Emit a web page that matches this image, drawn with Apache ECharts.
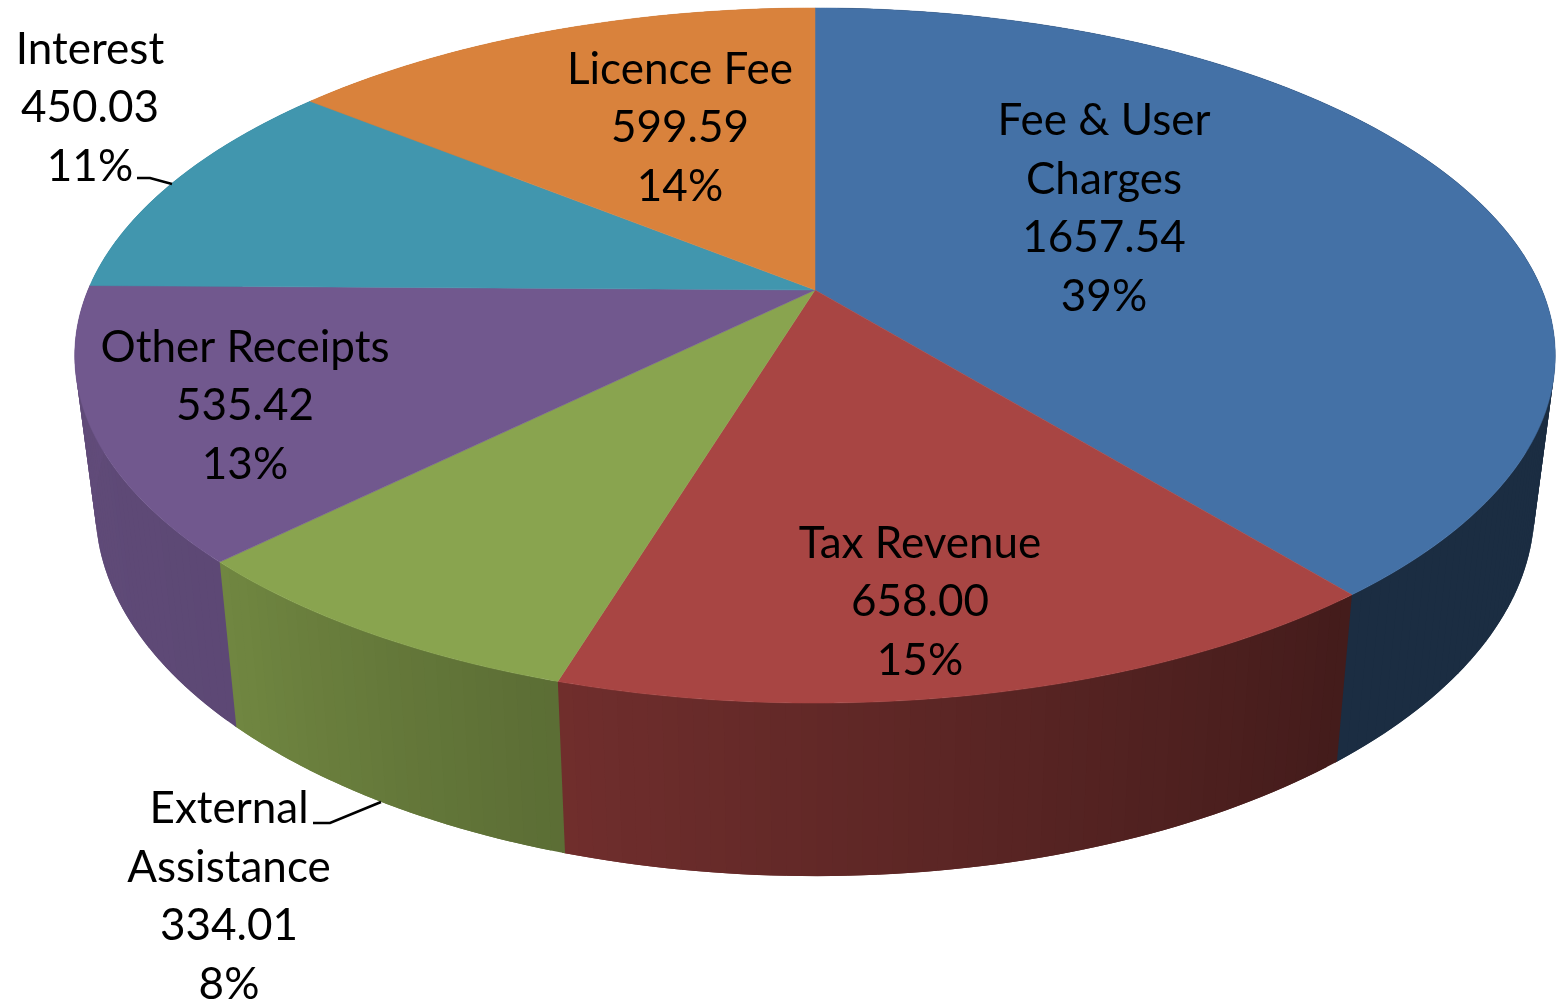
<!DOCTYPE html>
<html>
<head>
<meta charset="utf-8">
<title>Receipts</title>
<style>
  html, body { margin: 0; padding: 0; background: #fff; }
  #chart { width: 1562px; height: 1003px; }
</style>
</head>
<body>
<div id="chart"></div>
<script src="https://cdn.jsdelivr.net/npm/echarts@6/dist/echarts.min.js"></script>
<script>
const categories = ['Fee & User\nCharges', 'Tax Revenue', 'External\nAssistance', 'Other Receipts', 'Interest', 'Licence Fee'];
const values = [1657.54, 658.00, 334.01, 535.42, 450.03, 599.59];
const percents = [39, 15, 8, 13, 11, 14];
const colors = ['#4471a6', '#a84543', '#89a44f', '#71588e', '#4196ae', '#d9823c'];

// label centres, separate from the data
const labelPos = [[1104, 209], [920, 602], [229, 897], [245, 406], [90, 108], [680, 128]];
// leader lines: slice index -> polyline
const leaders = { 2: [[313, 823], [330, 823], [381, 802]], 4: [[137, 178], [150, 178], [172, 184]] };

// perspective of the pie: disc point (u, v) to screen
const cx = 815, cy = 290, rx = 727, ry = 335.2, persp = 0.1885;
function topPoint(deg) {
  const a = deg * Math.PI / 180;
  const u = Math.sin(a), v = -Math.cos(a);
  const w = 1 - persp * v;
  return [cx + rx * u / w, cy + ry * v / w];
}
function bottomPoint(deg) {
  const p = topPoint(deg);
  return [cx + 0.972 * (p[0] - cx), 1.057 * p[1] + 133];
}

const total = values.reduce((a, b) => a + b, 0);
const startAngle = [];
let running = 0;
values.forEach(v => {
  startAngle.push(running / total * 360);
  running += v;
});
function endAngle(i) {
  return i === values.length - 1 ? 360 : startAngle[i + 1];
}

// side wall gets darker towards the right hand side
const shadeStops = [[141, 0.40], [197, 0.667], [225, 0.82], [270, 0.86]];
function shade(deg) {
  if (deg <= shadeStops[0][0]) return shadeStops[0][1];
  for (let i = 1; i < shadeStops.length; i++) {
    if (deg <= shadeStops[i][0]) {
      const a = shadeStops[i - 1], b = shadeStops[i];
      return a[1] + (b[1] - a[1]) * (deg - a[0]) / (b[0] - a[0]);
    }
  }
  return shadeStops[shadeStops.length - 1][1];
}
function darken(hex, f) {
  const n = parseInt(hex.slice(1), 16);
  const r = Math.round((n >> 16 & 255) * f), g = Math.round((n >> 8 & 255) * f), b = Math.round((n & 255) * f);
  return 'rgb(' + r + ',' + g + ',' + b + ')';
}

function renderSide(params) {
  const i = params.dataIndex;
  const from = startAngle[i], to = endAngle(i);
  const steps = Math.ceil(to - from);
  const children = [];
  for (let s = 0; s < steps; s++) {
    const a = from + (to - from) * s / steps;
    // each facet runs a bit under the next one so no seams show
    const b = from + (to - from) * (s + 1) / steps + (s === steps - 1 ? 0.2 : 1);
    const fill = darken(colors[i], shade(a + (to - from) / steps / 2));
    children.push({
      type: 'polygon',
      shape: { points: [topPoint(a), topPoint(b), bottomPoint(b), bottomPoint(a)] },
      style: { fill: fill }
    });
  }
  return { type: 'group', children: children };
}

function renderTop(params) {
  const i = params.dataIndex;
  const from = startAngle[i], to = endAngle(i);
  const points = [[cx, cy]];
  const steps = Math.ceil((to - from) * 2);
  for (let s = 0; s <= steps; s++) {
    points.push(topPoint(from + (to - from) * s / steps));
  }
  return {
    type: 'polygon',
    shape: { points: points },
    style: { fill: colors[i], stroke: colors[i], lineWidth: 0.5 }
  };
}

function renderLabel(params) {
  const i = params.dataIndex;
  const children = [{
    type: 'text',
    x: labelPos[i][0],
    y: labelPos[i][1],
    style: {
      text: categories[i] + '\n' + values[i].toFixed(2) + '\n' + percents[i] + '%',
      font: '44px Lato',
      fill: '#000',
      align: 'center',
      verticalAlign: 'middle',
      lineHeight: 58.5
    }
  }];
  if (leaders[i]) {
    children.push({
      type: 'polyline',
      shape: { points: leaders[i] },
      style: { fill: null, stroke: '#000', lineWidth: 2.6 }
    });
  }
  return { type: 'group', children: children };
}

const chart = echarts.init(document.getElementById('chart'));
chart.setOption({
  animation: false,
  backgroundColor: '#fff',
  series: [
    { type: 'custom', coordinateSystem: 'none', silent: true, z: 1, data: values, renderItem: renderSide },
    { type: 'custom', coordinateSystem: 'none', silent: true, z: 2, data: values, renderItem: renderTop },
    { type: 'custom', coordinateSystem: 'none', silent: true, z: 3, data: values, renderItem: renderLabel }
  ]
});
</script>
</body>
</html>
